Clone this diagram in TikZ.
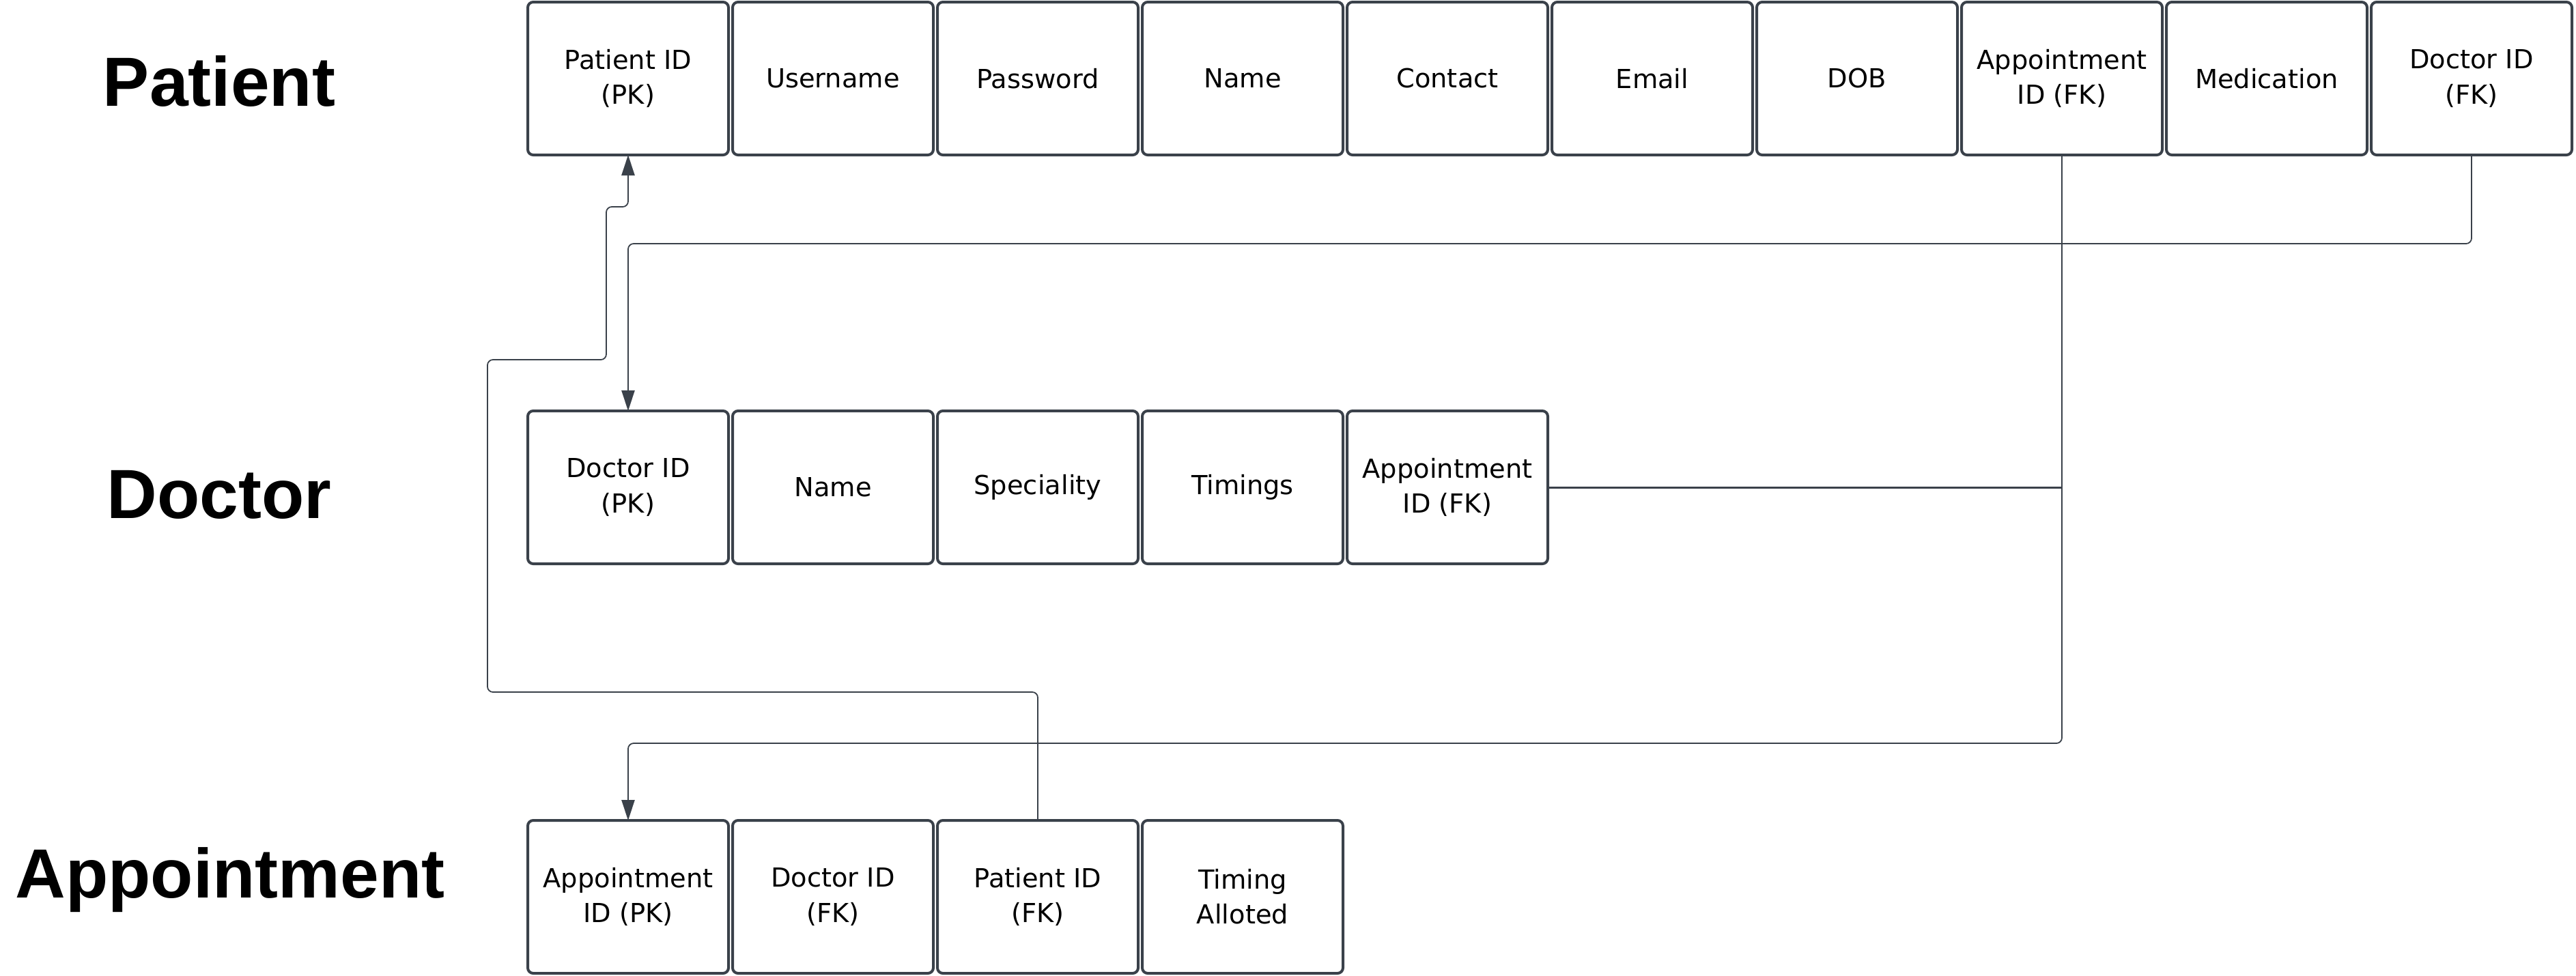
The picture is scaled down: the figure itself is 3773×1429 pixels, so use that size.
\documentclass[tikz,border=0pt]{standalone}
\usepackage{fontspec}
\setmainfont{DejaVu Sans}
\newfontfamily\titlefont{Liberation Sans}
\usetikzlibrary{positioning,arrows.meta}
\definecolor{slate}{HTML}{3A414A}
\tikzset{
    entity-cell/.style = {draw=slate, fill=white, line width=1pt, rectangle, rounded corners=2pt, minimum width=73.5pt, minimum height=56pt, outer sep=0pt, inner sep=2pt, align=center, font=\fontsize{9.6}{12.8}\selectfont},
    entity-title/.style = {anchor=base, font=\titlefont\bfseries\fontsize{25.5}{30}\selectfont},
    link-line/.style = {draw=slate, line width=0.45pt, rounded corners=2pt},
    link-arrow/.style = {link-line, -{Triangle[length=7.5pt, width=4.8pt]}},
}

\begin{document}
\begin{tikzpicture}[x=0.25pt, y=-0.25pt]
\useasboundingbox (0,0) rectangle (3773,1429);

% titles
\node[entity-title] (t-patient) at (321,155) {Patient};
\node[entity-title] (t-doctor) at (321,759) {Doctor};
\node[entity-title] (t-appointment) at (337,1315) {Appointment};

% patient table
\node[entity-cell] (p-id) at (920,115) {Patient ID\\(PK)};
\node[entity-cell, right=1.5pt of p-id] (p-user) {Username};
\node[entity-cell, right=1.5pt of p-user] (p-pass) {Password};
\node[entity-cell, right=1.5pt of p-pass] (p-name) {Name};
\node[entity-cell, right=1.5pt of p-name] (p-contact) {Contact};
\node[entity-cell, right=1.5pt of p-contact] (p-email) {Email};
\node[entity-cell, right=1.5pt of p-email] (p-dob) {DOB};
\node[entity-cell, right=1.5pt of p-dob] (p-appt) {Appointment\\ID (FK)};
\node[entity-cell, right=1.5pt of p-appt] (p-med) {Medication};
\node[entity-cell, right=1.5pt of p-med] (p-doc) {Doctor ID\\(FK)};

% doctor table
\node[entity-cell] (d-id) at (920,714) {Doctor ID\\(PK)};
\node[entity-cell, right=1.5pt of d-id] (d-name) {Name};
\node[entity-cell, right=1.5pt of d-name] (d-spec) {Speciality};
\node[entity-cell, right=1.5pt of d-spec] (d-time) {Timings};
\node[entity-cell, right=1.5pt of d-time] (d-appt) {Appointment\\ID (FK)};

% appointment table
\node[entity-cell] (a-id) at (920,1314) {Appointment\\ID (PK)};
\node[entity-cell, right=1.5pt of a-id] (a-doc) {Doctor ID\\(FK)};
\node[entity-cell, right=1.5pt of a-doc] (a-pat) {Patient ID\\(FK)};
\node[entity-cell, right=1.5pt of a-pat] (a-time) {Timing\\Alloted};

% keys
\draw[link-arrow] (p-appt.south) -- ++(0,862) -| (a-id.north);
\draw[link-arrow] (p-doc.south) -- ++(0,130) -| (d-id.north);
\draw[link-line, line width=0.75pt] (d-appt.east) -- (d-appt.east -| p-appt.south);
\draw[link-arrow] (a-pat.north) -- ++(0,-188) -- ++(-806,0) -- ++(0,-487) -- ++(174,0) -- ++(0,-224) -| (p-id.south);
\end{tikzpicture}
\end{document}
